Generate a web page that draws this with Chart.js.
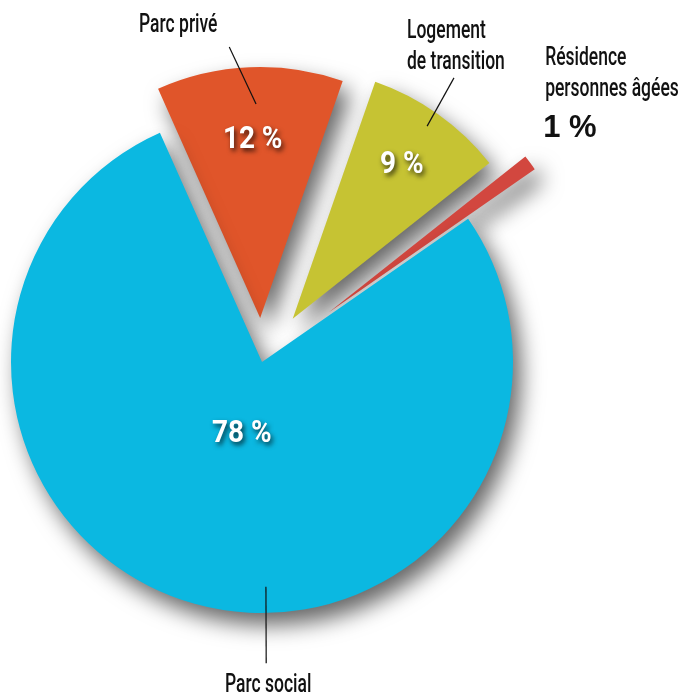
<!DOCTYPE html>
<html>
<head>
<meta charset="utf-8">
<script src="https://cdn.jsdelivr.net/npm/chart.js@4"></script>
<style>
  html, body { margin: 0; padding: 0; background: #fff; }
  #wrap { width: 680px; height: 697px; }
</style>
</head>
<body>
<div id="wrap"><canvas id="pie"></canvas></div>
<script>
// Data
const labels = ['Parc privé', 'Logement de transition', 'Résidence personnes âgées', 'Parc social'];
const values = [12, 9, 1, 78];
const pctLabels = ['12 %', '9 %', '1 %', '78 %'];
const colors = ['#e0552a', '#c6c333', '#d2473f', '#0bb8e1'];

// How far each slice is pulled out from the centre (px)
const explode = [44, 53, 83, 0];

// Where the text and leader lines go, relative to each slice
// (bearing relative to slice middle, radius as a fraction of the pie radius)
const callouts = [
    { pct: 0.71, line: [[1.3, 0.853], [-4.1, 1.087]], name: ['Parc privé'], nameAt: [-51, -15], align: 'center' },
    { pct: 0.75, line: [[-0.5, 0.936], [-1.6, 1.155]], name: ['Logement', 'de transition'], nameAt: [-47, -40], align: 'left' },
    { pct: null, line: null, name: ['Résidence', 'personnes âgées'], nameAt: [15, -98], align: 'left', bigPct: [13, -26] },
    { pct: 0.30, line: [[-16.6, 0.896], [-16.4, 1.2]], name: ['Parc social'], nameAt: [2, 29], align: 'center' }
];

function midBearing(arc) {
    return ((arc.startAngle + arc.endAngle) / 2) * 180 / Math.PI + 90;
}

function polar(arc, relDeg, frac) {
    const a = (midBearing(arc) + relDeg - 90) * Math.PI / 180;
    const r = arc.outerRadius * frac;
    return { x: arc.x + Math.cos(a) * r, y: arc.y + Math.sin(a) * r };
}

// condensed look: squeeze the text horizontally
function narrowText(ctx, text, x, y, align, sx) {
    ctx.save();
    ctx.translate(x, y);
    ctx.scale(sx, 1);
    ctx.textAlign = align;
    ctx.fillText(text, 0, 0);
    ctx.restore();
}

// Move the slices out along their middle angle
const explodePlugin = {
    id: 'explode',
    afterUpdate(chart) {
        const meta = chart.getDatasetMeta(0);
        meta.data.forEach((arc, i) => {
            const mid = (arc.startAngle + arc.endAngle) / 2;
            arc.x += Math.cos(mid) * explode[i];
            arc.y += Math.sin(mid) * explode[i];
        });
    }
};

// Soft drop shadow under the slices
const shadowPlugin = {
    id: 'sliceShadow',
    beforeDatasetsDraw(chart) {
        const ctx = chart.ctx;
        ctx.save();
        ctx.shadowColor = 'rgba(0, 0, 0, 0.6)';
        ctx.shadowBlur = 22;
        ctx.shadowOffsetX = 8;
        ctx.shadowOffsetY = 12;
    },
    afterDatasetsDraw(chart) {
        chart.ctx.restore();
    }
};

// Percentages, names and leader lines
const labelPlugin = {
    id: 'callouts',
    afterDraw(chart) {
        const ctx = chart.ctx;
        const arcs = chart.getDatasetMeta(0).data;
        arcs.forEach((arc, i) => {
            const c = callouts[i];

            // percentage inside the slice
            if (c.pct !== null) {
                const p = polar(arc, 0, c.pct);
                ctx.save();
                ctx.font = 'bold 31px Roboto, sans-serif';
                ctx.textBaseline = 'middle';
                ctx.fillStyle = '#ffffff';
                ctx.shadowColor = 'rgba(0, 0, 0, 0.75)';
                ctx.shadowBlur = 5;
                ctx.shadowOffsetX = 2;
                ctx.shadowOffsetY = 3;
                narrowText(ctx, pctLabels[i], p.x, p.y, 'center', 0.9);
                ctx.restore();
            }

            // leader line + name
            let anchor;
            if (c.line) {
                const p1 = polar(arc, c.line[0][0], c.line[0][1]);
                const p2 = polar(arc, c.line[1][0], c.line[1][1]);
                ctx.save();
                ctx.strokeStyle = '#111111';
                ctx.lineWidth = 1.2;
                ctx.beginPath();
                ctx.moveTo(p1.x, p1.y);
                ctx.lineTo(p2.x, p2.y);
                ctx.stroke();
                ctx.restore();
                anchor = p2;
            } else {
                anchor = polar(arc, 0, 1);
            }

            ctx.save();
            ctx.font = '500 25px Roboto, sans-serif';
            ctx.fillStyle = '#111111';
            ctx.textBaseline = 'alphabetic';
            c.name.forEach((line, k) => {
                narrowText(ctx, line, anchor.x + c.nameAt[0], anchor.y + c.nameAt[1] + k * 31, c.align, 0.7);
            });
            if (c.bigPct) {
                ctx.font = 'bold 31px "Liberation Sans", Arial, sans-serif';
                narrowText(ctx, pctLabels[i], anchor.x + c.bigPct[0], anchor.y + c.bigPct[1], 'left', 1);
            }
            ctx.restore();
        });
    }
};

const ctx = document.getElementById('pie').getContext('2d');
const chart = new Chart(ctx, {
    type: 'pie',
    data: {
        labels: labels,
        datasets: [{
            data: values,
            backgroundColor: colors,
            borderWidth: 0
        }]
    },
    options: {
        responsive: true,
        maintainAspectRatio: false,
        animation: false,
        events: [],
        rotation: -24,
        radius: 251,
        layout: { padding: { left: 0, right: 156, top: 27, bottom: 0 } },
        plugins: {
            legend: { display: false },
            tooltip: { enabled: false }
        }
    },
    plugins: [explodePlugin, shadowPlugin, labelPlugin]
});
</script>
</body>
</html>
